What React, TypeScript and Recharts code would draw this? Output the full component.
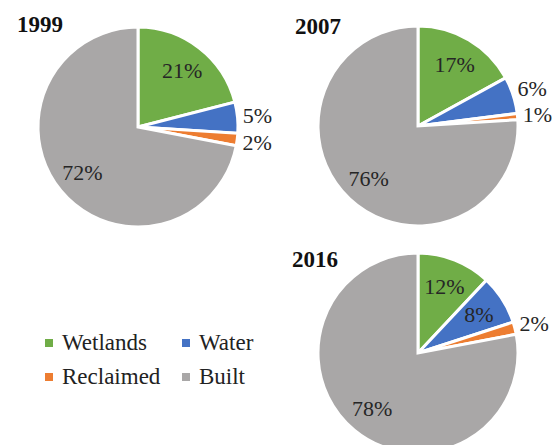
import { Legend, Pie, PieChart } from 'recharts';

const categories = ['Wetlands', 'Water', 'Reclaimed', 'Built'];
const colors = ['#70AD47', '#4472C4', '#ED7D31', '#A9A7A7'];

const years = ['1999', '2007', '2016'];
const share1999 = [21, 5, 2, 72];
const share2007 = [17, 6, 1, 76];
const share2016 = [12, 8, 2, 78];

const RADIAN = Math.PI / 180;
const SERIF = 'Liberation Serif, DejaVu Serif, serif';

const toRows = (values: number[]) =>
  values.map((value, i) => ({ name: categories[i], value, fill: colors[i] }));

// small slices get their label outside the pie, the rest sit inside
const renderLabel = (props: any) => {
  const { cx, cy, midAngle, outerRadius, value } = props;
  const r = value < 7 ? outerRadius * 1.2 : outerRadius * 0.72;
  const x = cx + r * Math.cos(-midAngle * RADIAN);
  const y = cy + r * Math.sin(-midAngle * RADIAN);
  return (
    <text
      x={x}
      y={y}
      fill="#262626"
      textAnchor="middle"
      dominantBaseline="central"
      style={{ fontFamily: SERIF, fontSize: 22 }}
    >
      {`${value}%`}
    </text>
  );
};

const renderLegend = () => (
  <div
    style={{
      display: 'grid',
      gridTemplateColumns: '137px 100px',
      fontFamily: SERIF,
      fontSize: 23,
      lineHeight: '34px',
      color: '#222'
    }}
  >
    {categories.map((name, i) => (
      <div key={name} style={{ display: 'flex', alignItems: 'center' }}>
        <span
          style={{ width: 8, height: 8, background: colors[i], marginRight: 9, display: 'inline-block' }}
        />
        {name}
      </div>
    ))}
  </div>
);

const titleStyle = {
  position: 'absolute' as const,
  fontFamily: SERIF,
  fontWeight: 'bold' as const,
  fontSize: 23,
  lineHeight: 1,
  color: '#111'
};

const pies = [
  { year: years[0], values: share1999, cx: 138, cy: 127, tx: 17, ty: 13 },
  { year: years[1], values: share2007, cx: 418, cy: 126, tx: 295, ty: 15 },
  { year: years[2], values: share2016, cx: 418, cy: 353, tx: 292, ty: 248 }
];

export default function App() {
  return (
    <div
      style={{
        position: 'absolute',
        left: 0,
        top: 0,
        width: 560,
        height: 445,
        overflow: 'hidden',
        background: '#fff',
        fontFamily: SERIF
      }}
    >
      <PieChart width={560} height={445} margin={{ top: 0, right: 0, bottom: 0, left: 0 }}>
        {pies.map((p) => (
          <Pie
            key={p.year}
            data={toRows(p.values)}
            dataKey="value"
            nameKey="name"
            cx={p.cx}
            cy={p.cy}
            outerRadius={100}
            startAngle={90}
            endAngle={-270}
            stroke="#fff"
            strokeWidth={3}
            label={renderLabel}
            labelLine={false}
            isAnimationActive={false}
          />
        ))}
        <Legend
          content={renderLegend}
          wrapperStyle={{ position: 'absolute', left: 45, top: 326, width: 240, fontFamily: SERIF }}
        />
      </PieChart>
      {pies.map((p) => (
        <div key={p.year} style={{ ...titleStyle, left: p.tx, top: p.ty }}>
          {p.year}
        </div>
      ))}
    </div>
  );
}
